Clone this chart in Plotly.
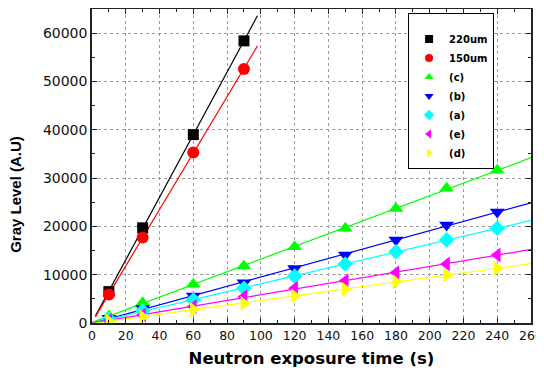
import numpy as np
import plotly.graph_objects as go

# ---- data ----
t_thick = [10, 30, 60, 90]
y_220um = [6500, 19700, 39000, 58400]
y_150um = [5900, 17700, 35300, 52600]

t_samples = [10, 30, 60, 90, 120, 150, 180, 210, 240]
y_c = [1450, 4200, 8000, 11800, 15800, 19600, 23700, 27900, 31600]
y_b = [1000, 3000, 5600, 8350, 11300, 14100, 17200, 20300, 23000]
y_a = [800, 2550, 4750, 7200, 9700, 12200, 14750, 17200, 19600]
y_e = [500, 1650, 3400, 5450, 7200, 8750, 10400, 12200, 14100]
y_d = [400, 1300, 2800, 4050, 5600, 7000, 8550, 9950, 11300]

names = ["220um", "150um", "(c)", "(b)", "(a)", "(e)", "(d)"]
colors = ["#000000", "#ff0000", "#00ff00", "#0000ff", "#00ffff", "#ff00ff", "#ffff00"]
symbols = ["square", "circle", "triangle-up", "triangle-down", "diamond",
           "triangle-left", "triangle-right"]
sizes = [11, 12, 13, 13, 12, 13, 13]

series = [
    (t_thick, y_220um, (2, 98)),
    (t_thick, y_150um, (2, 98)),
    (t_samples, y_c, (0, 260)),
    (t_samples, y_b, (0, 260)),
    (t_samples, y_a, (0, 260)),
    (t_samples, y_e, (0, 260)),
    (t_samples, y_d, (0, 260)),
]

fig = go.Figure()

# fitted lines
for (xs, ys, rng), c in zip(series, colors):
    k, b = np.polyfit(xs, ys, 1)
    xl = np.array(rng, dtype=float)
    fig.add_trace(go.Scatter(x=xl, y=k * xl + b, mode="lines",
                             line=dict(color=c, width=1.2),
                             showlegend=False, hoverinfo="skip"))

# markers
for (xs, ys, rng), n, c, s, sz in zip(series, names, colors, symbols, sizes):
    fig.add_trace(go.Scatter(x=xs, y=ys, mode="markers", name=n,
                             marker=dict(color=c, symbol=s, size=sz,
                                         line=dict(width=0)),
                             showlegend=False))

# legend entries (smaller symbols, as in the original key)
for n, c, s in zip(names, colors, symbols):
    fig.add_trace(go.Scatter(x=[None], y=[None], mode="markers", name="<b>%s</b>" % n,
                             marker=dict(color=c, symbol=s, size=8, line=dict(width=0))))

axis_common = dict(
    showline=True, linecolor="#222222", linewidth=1.5, mirror="ticks",
    ticks="inside", ticklen=5, tickcolor="#222222", tickwidth=1,
    showgrid=True, gridcolor="#9a9a9a", griddash="dot", gridwidth=1,
    zeroline=False, automargin=False, ticklabeloverflow="allow",
    tickformat="d",
)

fig.update_xaxes(range=[0, 260], tickmode="linear", tick0=0, dtick=20,
                 minor=dict(ticks="inside", ticklen=3, dtick=10, tick0=0,
                            tickcolor="#222222", showgrid=False),
                 tickfont=dict(family="DejaVu Sans", size=12.5, color="#111111"),
                 title=dict(text="<b>Neutron exposure time (s)</b>",
                            font=dict(family="DejaVu Sans", size=16.5, color="#000000"),
                            standoff=11),
                 **axis_common)
fig.update_yaxes(range=[0, 65000], tickmode="linear", tick0=0, dtick=10000,
                 minor=dict(ticks="inside", ticklen=3, dtick=5000, tick0=0,
                            tickcolor="#222222", showgrid=False),
                 tickfont=dict(family="DejaVu Sans", size=14, color="#111111"),
                 **axis_common)

fig.add_annotation(text="<b>Gray Level (A.U)</b>", textangle=-90,
                   xref="paper", yref="paper", x=-0.174, y=0.41,
                   xanchor="center", yanchor="middle", showarrow=False,
                   font=dict(family="Liberation Sans", size=15, color="#000000"))

# page body has an 8px margin, so the figure is sized/offset to compensate
fig.update_layout(
    width=536, height=362,
    margin=dict(l=84, r=13, t=1, b=47),
    paper_bgcolor="white", plot_bgcolor="white",
    showlegend=True,
    legend=dict(x=0.72, y=0.987, xanchor="left", yanchor="top",
                bgcolor="white", bordercolor="#000000", borderwidth=1,
                font=dict(family="DejaVu Sans", size=10, color="#000000"),
                itemsizing="trace", tracegroupgap=0,
                title=dict(text=" ", font=dict(size=8))),
)

fig.write_html("out.html")
